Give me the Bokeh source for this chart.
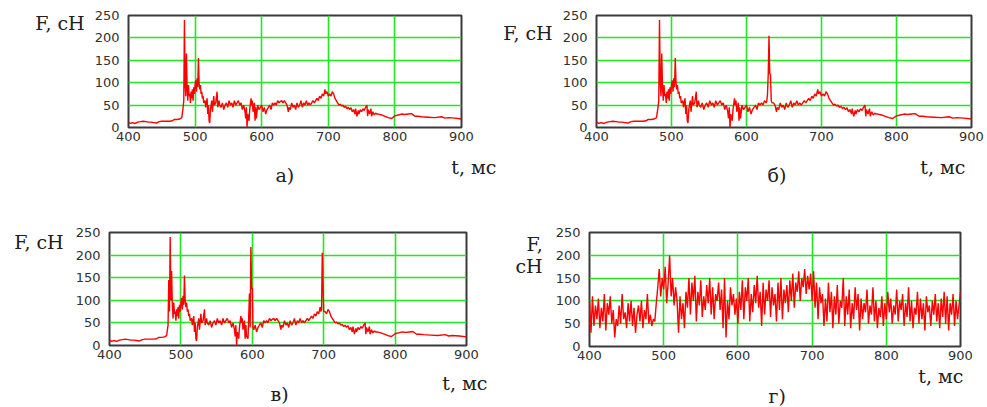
from bokeh.plotting import figure
from bokeh.models import Range1d, FixedTicker, Title
from bokeh.layouts import column, row
from bokeh.embed import file_html
from bokeh.resources import INLINE

X_TICKS = [400, 500, 600, 700, 800, 900]
Y_TICKS = [0, 50, 100, 150, 200, 250]

# base force signal (panel а), t in ms, F in сН
T_BASE = [400, 403, 406, 410, 414, 418, 422, 426, 430, 434,
          438, 442, 446, 450, 454, 458, 462, 466, 469, 473,
          477, 480, 482, 483, 484, 485, 486, 487, 488, 489,
          490, 491, 492, 493, 494, 495, 496, 497, 498, 499,
          500, 501, 502, 503, 504, 505, 506, 507, 508, 509,
          510, 511, 512, 513, 515, 516, 518, 519, 520, 521,
          522, 523, 525, 526, 528, 529, 531, 533, 534, 536,
          537, 539, 541, 543, 545, 547, 549, 551, 553, 555,
          557, 559, 561, 563, 565, 567, 569, 571, 573, 575,
          576, 577, 578, 579, 581, 582, 584, 585, 586, 587,
          589, 590, 591, 592, 594, 596, 598, 600, 602, 604,
          606, 608, 610, 612, 614, 616, 618, 620, 622, 624,
          626, 628, 630, 632, 634, 636, 638, 640, 641, 643,
          645, 647, 649, 651, 653, 655, 657, 659, 661, 663,
          665, 667, 669, 671, 673, 675, 677, 679, 681, 683,
          685, 687, 689, 691, 693, 695, 696, 698, 700, 702,
          704, 706, 708, 710, 712, 714, 716, 718, 720, 722,
          724, 726, 728, 730, 732, 734, 736, 738, 740, 741,
          743, 745, 746, 748, 750, 752, 754, 756, 758, 759,
          760, 762, 764, 765, 767, 769, 771, 773, 775, 780,
          785, 790, 795, 800, 805, 810, 815, 820, 825, 830,
          835, 840, 850, 860, 870, 875, 880, 890, 900]
F_BASE = [12, 9, 11, 9, 12, 13, 14, 13, 12, 12,
          11, 10, 13, 14, 14, 14, 14, 15, 18, 18,
          19, 22, 45, 60, 240, 100, 70, 165, 90, 60,
          95, 70, 75, 55, 80, 65, 85, 60, 90, 75,
          95, 105, 80, 110, 90, 155, 100, 85, 95, 75,
          80, 65, 70, 55, 60, 45, 65, 30, 50, 15,
          10, 40, 60, 35, 70, 50, 55, 80, 45, 60,
          50, 45, 55, 40, 50, 55, 45, 60, 50, 55,
          45, 60, 50, 55, 60, 50, 55, 40, 50, 35,
          20, 45, 0, 30, 15, 40, 65, 50, 60, 35,
          55, 15, 45, 20, 50, 40, 45, 50, 35, 45,
          30, 40, 45, 50, 40, 55, 50, 55, 50, 60,
          55, 58, 60, 55, 60, 55, 50, 35, 45, 40,
          55, 45, 50, 40, 55, 45, 50, 60, 45, 55,
          50, 60, 50, 55, 50, 55, 60, 55, 60, 65,
          60, 70, 65, 75, 70, 85, 75, 80, 70, 75,
          70, 80, 75, 65, 60, 55, 50, 52, 48, 50,
          45, 47, 42, 45, 40, 44, 35, 40, 30, 42,
          25, 38, 30, 40, 35, 42, 38, 45, 50, 25,
          40, 30, 42, 25, 35, 28, 32, 30, 30, 28,
          25, 22, 20, 26, 28, 30, 29, 30, 31, 25,
          25, 24, 23, 22, 24, 21, 22, 21, 19]

# extra impact spikes (panel б)
T_SPIKE_B = [627, 628, 629, 630, 631, 632, 633, 634]
F_SPIKE_B = [58, 75, 120, 205, 120, 118, 60, 55]

# extra impact spikes (panel в)
T_SPIKE_V = [483, 484, 485, 486, 594, 596, 597, 598, 599, 600, 601,
             697, 698, 699, 700]
F_SPIKE_V = [145, 75, 240, 100, 15, 115, 40, 218, 125, 128, 40,
             80, 205, 140, 75]

# noisy signal (panel г), sampled every 2 ms
T_G = list(range(400, 902, 2))
F_G = [100, 30, 110, 45, 90, 60, 105, 40, 85, 55,
       115, 35, 95, 70, 110, 50, 80, 20, 60, 45,
       90, 50, 115, 60, 75, 40, 95, 55, 100, 45,
       85, 30, 70, 90, 55, 100, 40, 80, 60, 115,
       50, 70, 45, 60, 55, 95, 130, 170, 110, 150,
       125, 175, 95, 140, 200, 110, 150, 90, 130, 100,
       30, 110, 60, 95, 40, 120, 85, 150, 70, 140,
       100, 155, 55, 120, 90, 145, 65, 110, 80, 135,
       95, 150, 70, 130, 60, 115, 100, 140, 80, 125,
       40, 150, 20, 100, 60, 130, 90, 115, 70, 105,
       50, 120, 80, 145, 60, 130, 100, 150, 55, 115,
       75, 135, 95, 155, 85, 120, 45, 140, 70, 125,
       100, 145, 65, 130, 90, 115, 55, 140, 80, 150,
       60, 125, 95, 135, 75, 145, 100, 160, 85, 140,
       120, 165, 100, 150, 130, 170, 115, 155, 125, 160,
       100, 165, 85, 140, 60, 130, 95, 115, 45, 105,
       55, 140, 75, 120, 40, 110, 70, 135, 50, 100,
       85, 150, 45, 110, 70, 125, 40, 95, 60, 130,
       80, 115, 35, 105, 60, 95, 75, 125, 50, 90,
       70, 130, 55, 100, 40, 85, 65, 110, 45, 95,
       60, 120, 75, 105, 50, 90, 70, 125, 55, 100,
       80, 115, 45, 95, 65, 130, 55, 100, 40, 85,
       70, 120, 50, 105, 60, 95, 35, 110, 75, 90,
       45, 100, 70, 115, 55, 95, 40, 105, 65, 120,
       50, 110, 35, 95, 70, 115, 45, 100, 60, 90,
       120]


def merge(tb, fb, ts, fs):
    groups = []
    for t in ts:
        if groups and t - groups[-1][-1] <= 3:
            groups[-1].append(t)
        else:
            groups.append([t])
    pts = [(t, f) for t, f in zip(tb, fb)
           if not any(g[0] <= t <= g[-1] for g in groups)]
    pts += list(zip(ts, fs))
    pts.sort()
    return [p[0] for p in pts], [p[1] for p in pts]


T_B, F_B = merge(T_BASE, F_BASE, T_SPIKE_B, F_SPIKE_B)
T_V, F_V = merge(T_BASE, F_BASE, T_SPIKE_V, F_SPIKE_V)

SERIF = "DejaVu Serif"
SANS = "DejaVu Sans"
TXT = "#202020"
NB = "\u00a0"


def panel(frame, origin, size, t, f, ylab, ylab_lh, ylab_standoff,
          x_pad, tlab_offset, tlab_standoff, letter, letter_offset,
          letter_standoff):
    fl, fr, ft, fb = frame
    ox, oy = origin
    W, H = size
    p = figure(frame_width=fr - fl, frame_height=fb - ft,
               min_border_left=fl - ox, min_border_right=ox + W - fr,
               min_border_top=ft - oy, min_border_bottom=oy + H - fb,
               x_range=Range1d(400, 900), y_range=Range1d(0, 250),
               output_backend="svg", toolbar_location=None, tools="")
    p.background_fill_color = "white"
    p.border_fill_color = "white"
    p.outline_line_color = "#3a3a3a"
    p.outline_line_width = 2
    p.xaxis.ticker = FixedTicker(ticks=X_TICKS)
    p.yaxis.ticker = FixedTicker(ticks=Y_TICKS)
    for ax in (p.xaxis[0], p.yaxis[0]):
        ax.axis_line_color = None
        ax.major_tick_line_color = None
        ax.minor_tick_line_color = None
        ax.major_label_text_font = SANS
        ax.major_label_text_font_size = "13px"
        ax.major_label_text_color = "#303030"
    xa = p.xaxis[0]
    xa.major_label_standoff = -2
    if x_pad is not None:
        xa.axis_label = NB
        xa.axis_label_text_font_size = "1px"
        xa.axis_label_standoff = x_pad
    ya = p.yaxis[0]
    ya.major_label_standoff = 3
    ya.axis_label = ylab
    ya.axis_label_orientation = "horizontal"
    ya.axis_label_align = "end"
    ya.axis_label_standoff = ylab_standoff
    ya.axis_label_text_font = SERIF
    ya.axis_label_text_font_size = "19px"
    ya.axis_label_text_font_style = "normal"
    ya.axis_label_text_color = TXT
    ya.axis_label_text_line_height = ylab_lh

    p.add_layout(Title(text="t, мс", align="right", offset=tlab_offset,
                       text_font=SERIF, text_font_size="19px",
                       text_font_style="normal", text_color=TXT,
                       standoff=tlab_standoff), "below")
    p.add_layout(Title(text=letter, align="left", offset=letter_offset,
                       text_font=SERIF, text_font_size="19px",
                       text_font_style="normal", text_color=TXT,
                       standoff=letter_standoff), "below")

    p.xgrid.grid_line_color = "#22e622"
    p.ygrid.grid_line_color = "#22e622"
    p.xgrid.grid_line_width = 1.6
    p.ygrid.grid_line_width = 1.6
    p.line(t, f, line_color="#ff0000", line_width=1.4)
    return p


pa = panel((128, 461, 15, 127), (0, 0), (498, 200), T_BASE, F_BASE,
           NB + "\nF, сН", 0.68, 7, 11, -35, -10, "а)", 147, -22)
pb = panel((596, 971, 15, 127), (498, 0), (487, 200), T_B, F_B,
           NB + "\nF, сН", 1.6, 7, 11, 6, -10, "б)", 171, -22)
pv = panel((109, 466, 232, 345), (0, 200), (498, 207), T_V, F_V,
           NB + "\nF, сН", 0.89, 9, 9, -21, -10, "в)", 161, -16)
pg = panel((589, 960, 226, 340), (498, 200), (487, 207), T_G, F_G,
           NB + "\n" + NB + "\nF,\nсН", 1.0, 10, None, -3, 0, "г)", 179, -7)

layout = column(row(pa, pb), row(pv, pg))
open("out.html", "w").write(file_html(layout, INLINE))
